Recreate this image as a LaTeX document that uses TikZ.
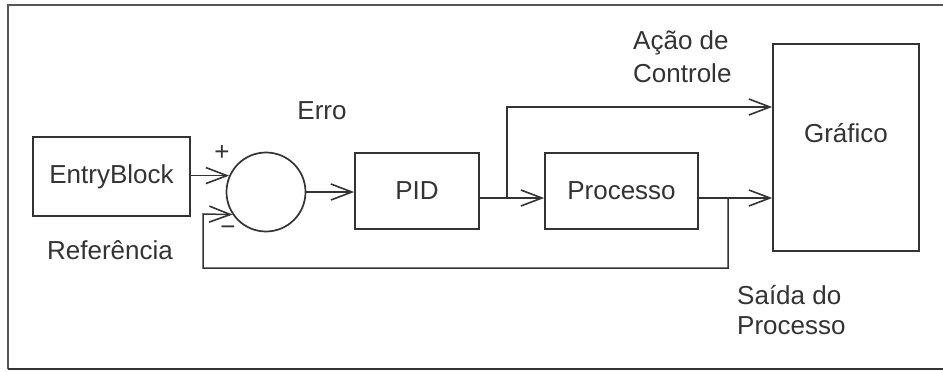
\documentclass[tikz,border=0pt]{standalone}
\usepackage{fontspec}
\setmainfont{Liberation Sans}
\usetikzlibrary{arrows.meta,calc}

\definecolor{ink}{HTML}{333333}
\definecolor{frameink}{HTML}{555555}

\tikzset{
  block/.style={draw=ink, line width=1.7pt, rectangle, inner sep=0pt},
  sumnode/.style={draw=ink, line width=1.7pt, circle, inner sep=0pt, minimum size=79pt},
  wire/.style={draw=ink, line width=1.5pt},
  arr/.style={wire, -{Straight Barb[length=21pt,width=16pt,line width=1.6pt]}},
  txt/.style={text=ink, font=\fontsize{26}{30}\selectfont, inner sep=0pt},
}

\begin{document}
\begin{tikzpicture}[x=1pt, y=-1pt]
  \useasboundingbox (0,0) rectangle (943,372);
  \fill[white] (0,0) rectangle (943,372);

  % outer frame (open on the right)
  \draw[frameink, line width=1.4pt] (943,5) -- (8,5) -- (8,369);
  \draw[ink, line width=2.2pt] (8,369) -- (943,369);

  % blocks
  \node[block, minimum width=157pt, minimum height=79pt, txt] (entry) at (111.5,176.5) {EntryBlock};
  \node[sumnode] (sum) at (266,192) {};
  \node[block, minimum width=124pt, minimum height=76pt, txt] (pid) at (417,191) {PID};
  \node[block, minimum width=153pt, minimum height=76pt, txt] (proc) at (621.5,191) {Processo};
  \node[block, minimum width=146pt, minimum height=207pt] (graf) at (846,147.5) {};
  \node[txt] (graftext) at ([yshift=14pt]graf.center) {Gráfico};

  % branch points
  \coordinate (b1) at (507,198);
  \coordinate (b2) at (728,198);

  % signal paths
  \draw[arr] (entry.east |- sum.156) -- (sum.156);
  \draw[arr] (sum.east) -- (sum.east -| pid.west);
  \draw[arr] ([yshift=-7pt]pid.east) -- ([yshift=-7pt]proc.west);
  \draw[arr] (b1) |- ([yshift=40.5pt]graf.west);
  \draw[arr] ([yshift=-7pt]proc.east) -- ([yshift=-50.5pt]graf.west);
  \draw[arr] (b2) -- (728,268) -- (203,268) -- (203,214) -- (sum.214);

  % labels
  \node[txt] (plus) at (222,153) {+};
  \node[txt] (minus) at (228,231) {−};
  \node[txt] (ref) at (110,250) {Referência};
  \node[txt] (erro) at (322,111) {Erro};
  \node[txt, anchor=west] (acao1) at (633,43) {Ação de};
  \node[txt, anchor=west] (acao2) at (633,73) {Controle};
  \node[txt, anchor=west] (saida1) at (737,295) {Saída do};
  \node[txt, anchor=west] (saida2) at (737,326) {Processo};
\end{tikzpicture}
\end{document}
